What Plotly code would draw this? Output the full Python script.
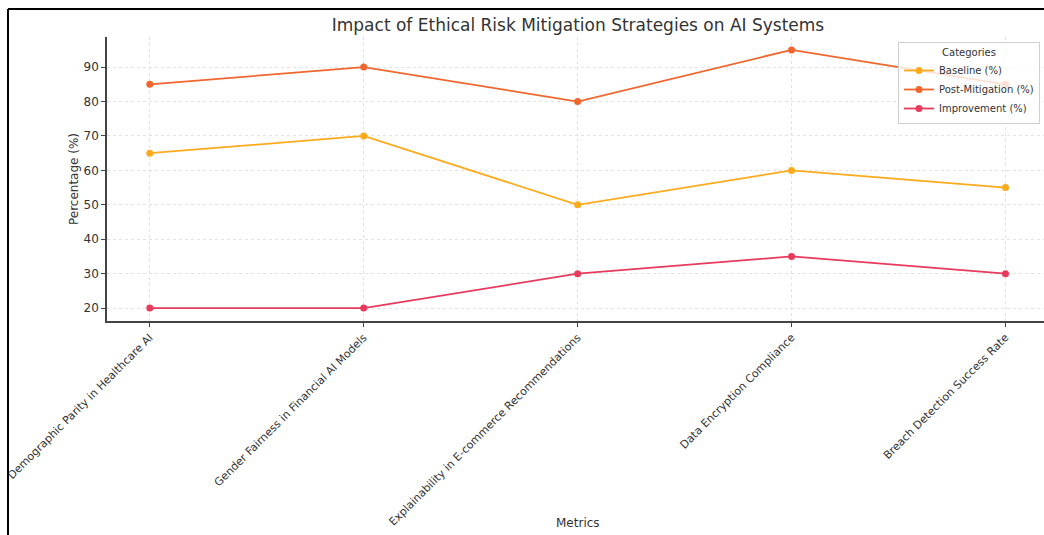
import plotly.graph_objects as go

metrics = [
    "Demographic Parity in Healthcare AI",
    "Gender Fairness in Financial AI Models",
    "Explainability in E-commerce Recommendations",
    "Data Encryption Compliance",
    "Breach Detection Success Rate",
]
baseline = [65, 70, 50, 60, 55]
post_mitigation = [85, 90, 80, 95, 85]
improvement = [20, 20, 30, 35, 30]

series_names = ["Baseline (%)", "Post-Mitigation (%)", "Improvement (%)"]
series_values = [baseline, post_mitigation, improvement]
series_colors = ["#FDAA1C", "#F0662E", "#E83A5C"]

W, H = 1044, 535
L, R, T, B = 107, 1044, 37, 321
pw, ph = R - L, B - T

fig = go.Figure()
for name, vals, col in zip(series_names, series_values, series_colors):
    fig.add_trace(go.Scatter(
        x=list(range(len(metrics))), y=vals, name=name, mode="lines+markers",
        line=dict(color=col, width=1.8), marker=dict(color=col, size=7),
    ))

def px_x(p):
    return (p - L) / pw

def px_y(p):
    return (B - p) / ph

fig.update_layout(
    width=W, height=H,
    margin=dict(l=L, r=W - R, t=T, b=H - B),
    paper_bgcolor="white", plot_bgcolor="white",
    font=dict(family="DejaVu Sans", color="#333333"),
    title=dict(text="Impact of Ethical Risk Mitigation Strategies on AI Systems",
               xref="container", x=578 / W, xanchor="center",
               yref="container", y=1 - 25 / H, yanchor="middle",
               font=dict(size=17, color="#333333")),
    showlegend=True,
    legend=dict(
        title=dict(text="Categories", side="top center", font=dict(size=10, color="#333333")),
        x=px_x(1040), xanchor="right", y=px_y(42), yanchor="top",
        bgcolor="rgba(255,255,255,0.8)", bordercolor="#d0d0d0", borderwidth=1,
        font=dict(size=10, color="#333333"), itemwidth=30, tracegroupgap=0,
    ),
    xaxis=dict(
        tickmode="array", tickvals=list(range(len(metrics))), ticktext=metrics,
        tickangle=-45, range=[-0.2, 4.18], tickfont=dict(size=11, color="#333333"),
        showgrid=True, gridcolor="#e2e2e2", griddash="dot", gridwidth=1,
        showline=True, linecolor="#444444", linewidth=1.5,
        ticks="outside", ticklen=4, tickcolor="#444444", zeroline=False,
        automargin=False,
    ),
    yaxis=dict(
        range=[16.25, 98.75], tickvals=[20, 30, 40, 50, 60, 70, 80, 90],
        tickfont=dict(size=12, color="#333333"),
        showgrid=True, gridcolor="#e2e2e2", griddash="dot", gridwidth=1,
        showline=True, linecolor="#444444", linewidth=1.5,
        ticks="outside", ticklen=4, tickcolor="#444444", zeroline=False,
        title=dict(text="Percentage (%)", font=dict(size=12, color="#333333"), standoff=2),
        automargin=False,
    ),
)

fig.add_annotation(text="Metrics", xref="paper", yref="paper", x=px_x(578), y=px_y(523),
                   showarrow=False, font=dict(size=12, color="#333333"),
                   xanchor="center", yanchor="middle")

# frame lines seen on the reference's left and top edges
fig.add_shape(type="line", xref="paper", yref="paper",
              x0=px_x(8), x1=px_x(8), y0=px_y(9), y1=px_y(H + 2),
              line=dict(color="black", width=2))
fig.add_shape(type="line", xref="paper", yref="paper",
              x0=px_x(8), x1=px_x(W + 2), y0=px_y(9), y1=px_y(9),
              line=dict(color="black", width=2))

fig.write_html("out.html")
